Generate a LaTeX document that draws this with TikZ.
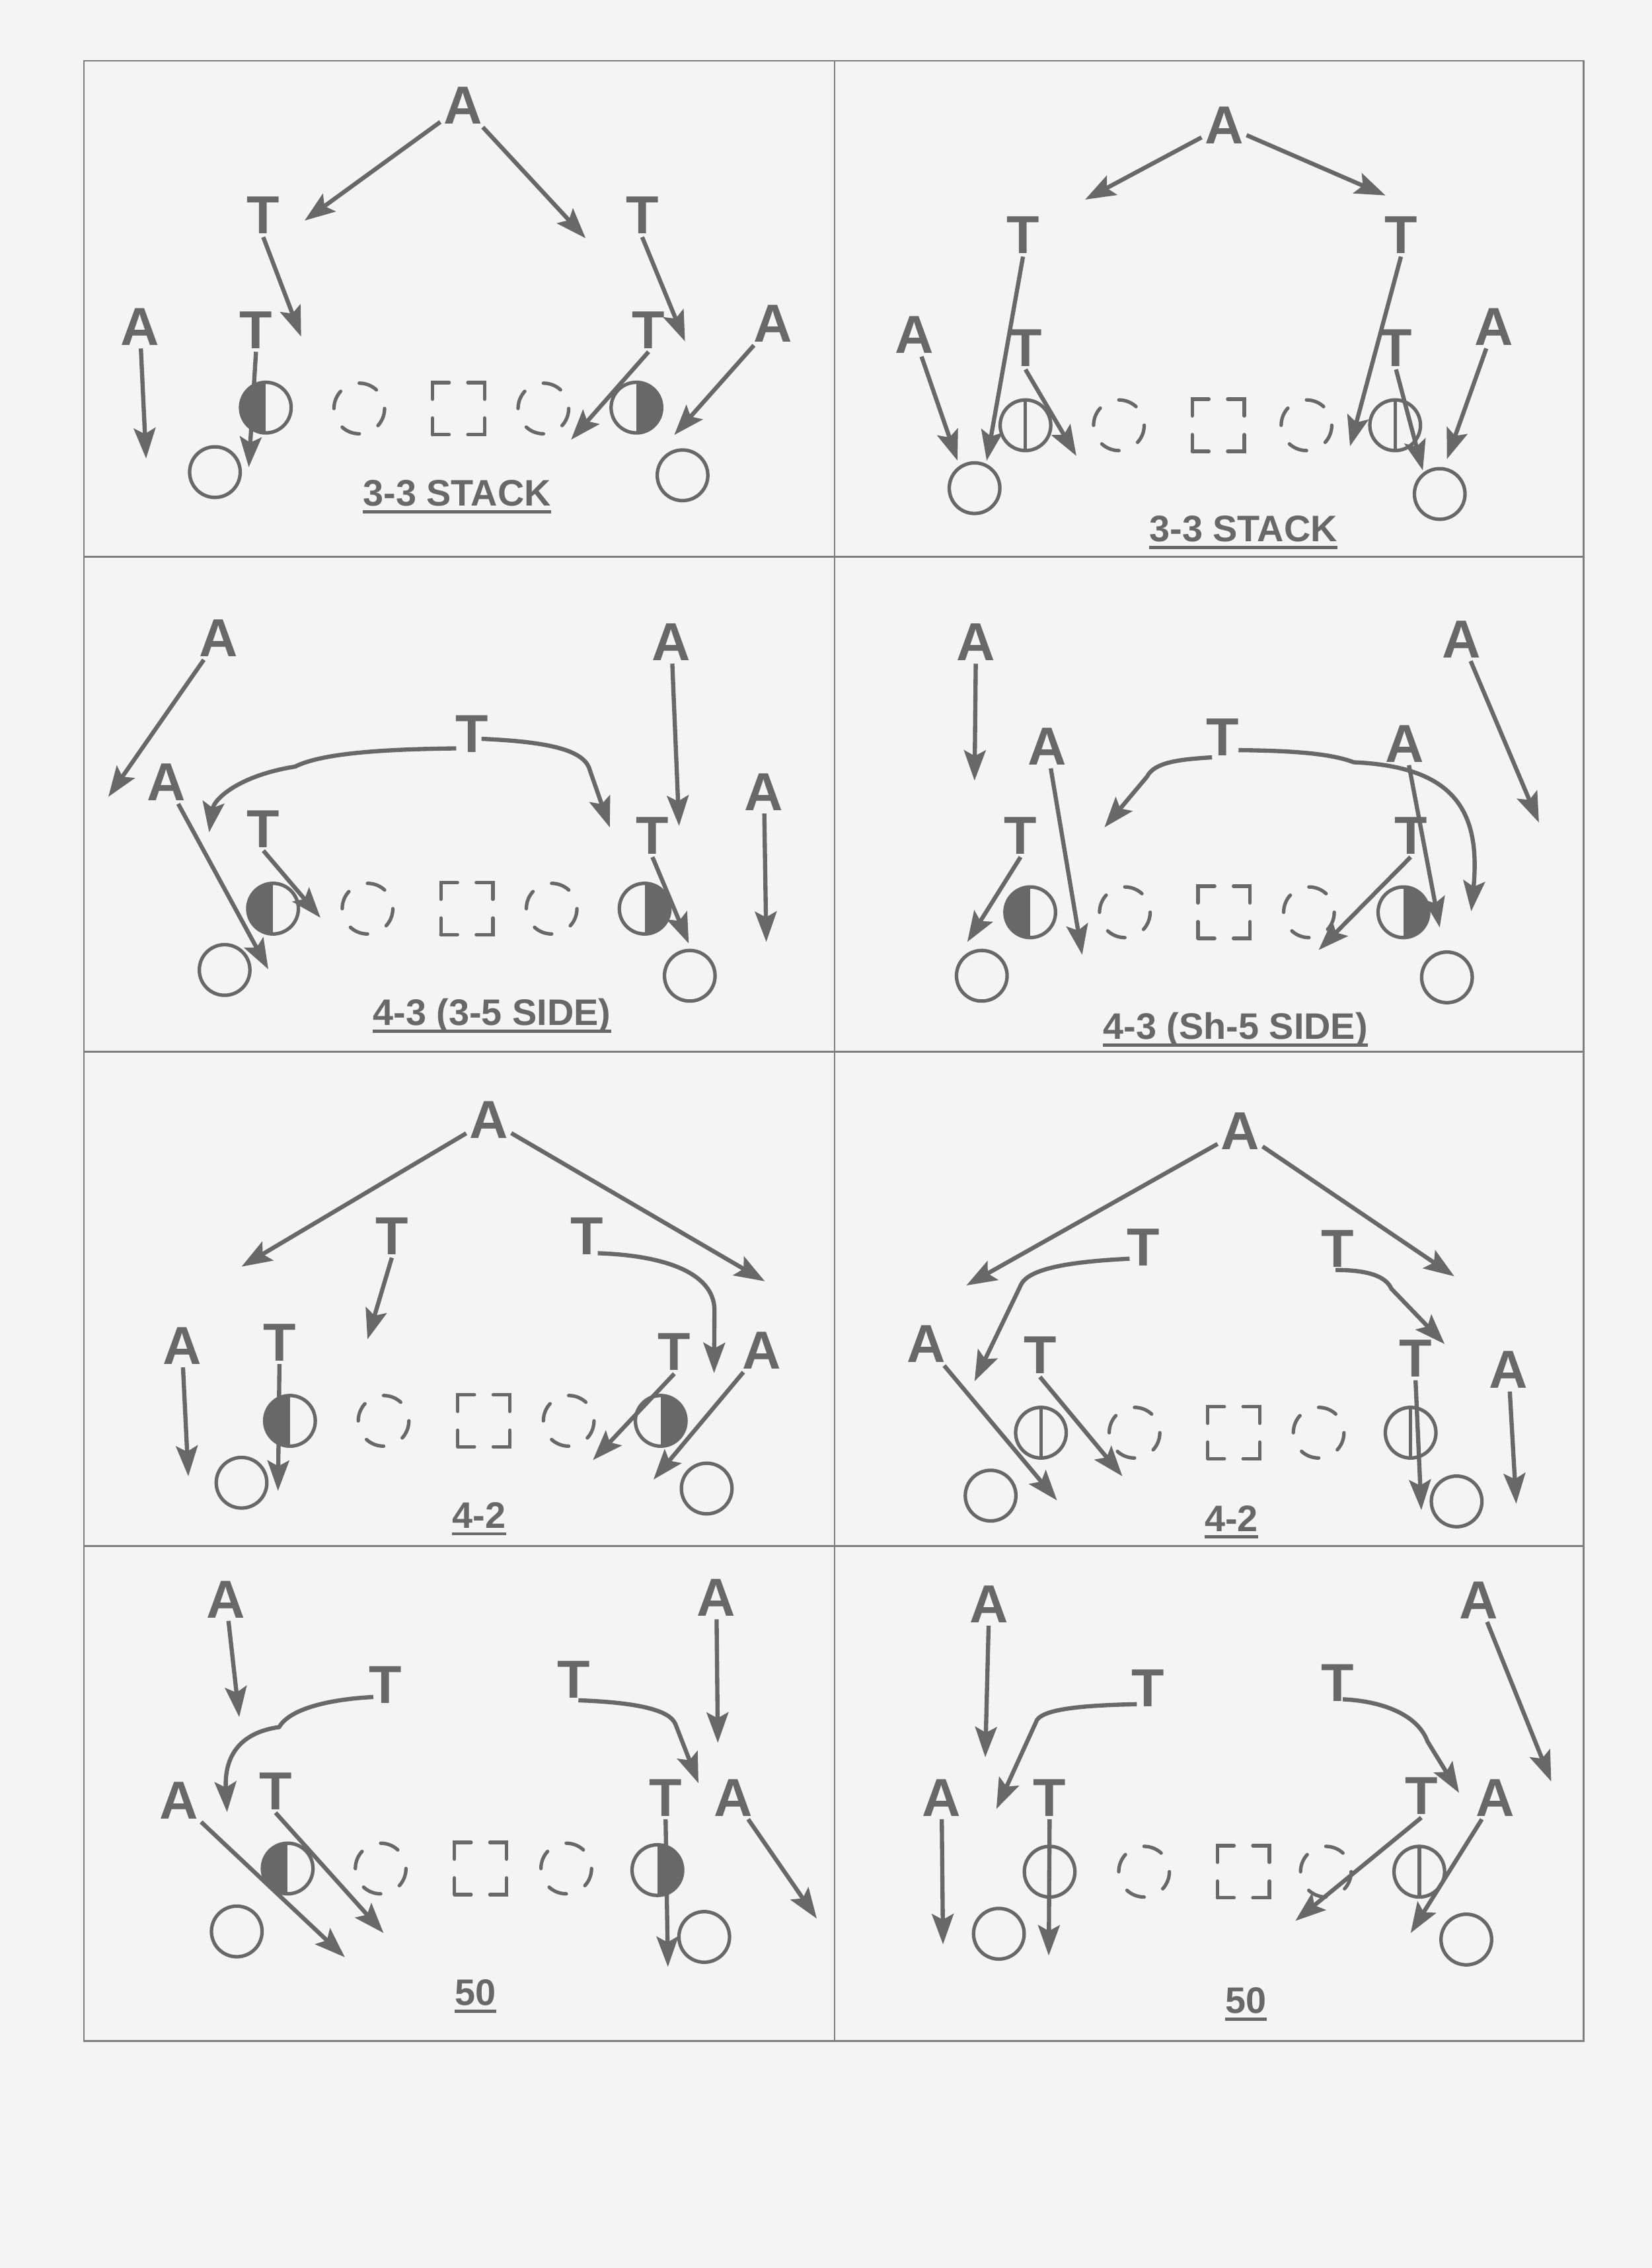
\documentclass[tikz,border=0pt]{standalone}
\usepackage{fontspec}
\setmainfont{Liberation Sans}
\usetikzlibrary{arrows.meta}
\definecolor{ink}{RGB}{104,104,104}
\definecolor{bgc}{RGB}{244,244,244}
\definecolor{gridc}{RGB}{125,125,125}
\newcommand\mv[3]{\coordinate (#2) at (#3); \draw[arr] (#1) -- (#2);}
\newcommand\ulbl[1]{\draw[uline] ([yshift=-4pt]#1.base west) -- ([yshift=-4pt]#1.base east);}
\begin{document}
\begin{tikzpicture}[x=1pt,y=-1pt,
  lt/.style={font=\fontsize{37}{42}\selectfont\bfseries, text=ink, inner sep=2pt},
  lbl/.style={font=\fontsize{25.5}{30}\selectfont\bfseries, text=ink, inner sep=0pt, anchor=base},
  uline/.style={draw=ink, line width=2.2pt},
  arr/.style={draw=ink, line width=2.9pt, -{Stealth[length=21pt,width=15pt,inset=4pt]}},
  plr/.style={circle, draw=ink, line width=2.4pt, minimum size=35pt, inner sep=0pt},
  halfL/.style={plr, path picture={\fill[ink] (path picture bounding box.south west) rectangle (path picture bounding box.north);}},
  halfR/.style={plr, path picture={\fill[ink] (path picture bounding box.north east) rectangle (path picture bounding box.south);}},
  vln/.style={plr, path picture={\draw[ink, line width=2.4pt] (path picture bounding box.north) -- (path picture bounding box.south);}},
  dcirc/.style={plr, line cap=round, dash pattern=on 13pt off 14.49pt, dash phase=13pt},
  dsq/.style={rectangle, draw=ink, line width=2.4pt, line cap=round, minimum size=36pt, inner sep=0pt, dash pattern=on 23pt off 13pt, dash phase=11.5pt},
  gridl/.style={draw=gridc, line width=1.3pt}
]
\useasboundingbox (0,0) rectangle (1142,1568);
\fill[bgc] (0,0) rectangle (1142,1568);
% grid
\draw[gridl] (58,42) rectangle (1095,1411);
\draw[gridl] (577,42) -- (577,1411);
\draw[gridl] (58,385) -- (1095,385);
\draw[gridl] (58,727) -- (1095,727);
\draw[gridl] (58,1069) -- (1095,1069);

% ===== Panel 1 =====
\node[lt] (p1A) at (320,73) {A};
\node[lt] (p1T1) at (182,149) {T};
\node[lt] (p1T2) at (444,149) {T};
\node[lt] (p1A2) at (96.7,226) {A};
\node[lt] (p1T3) at (177,228.3) {T};
\node[lt] (p1T4) at (448.4,228.3) {T};
\node[lt] (p1A3) at (534.5,223.8) {A};
\node[halfL] (p1d1) at (183.8,281.8) {};
\node[dcirc] (p1d2) at (248.4,282.4) {};
\node[dsq] (p1d3) at (317,282.5) {};
\node[dcirc] (p1d4) at (375.7,282.4) {};
\node[halfR] (p1d5) at (440,281.8) {};
\node[plr] (p1o1) at (148.6,326.4) {};
\node[plr] (p1o2) at (471.9,328.6) {};
\mv{p1A}{p1e1}{210.6,152.5}
\mv{p1A}{p1e2}{404.9,164.7}
\mv{p1T1.south}{p1e3}{208.2,232.7}
\mv{p1T2.south}{p1e4}{473.6,236}
\mv{p1A2}{p1e5}{101,317}
\mv{p1T3.south}{p1e6}{172,323}
\mv{p1T4.south}{p1e7}{394.8,304}
\mv{p1A3}{p1e8}{466.2,300.7}
\node[lbl] (p1L) at (316,349.8) {3-3 STACK};
\ulbl{p1L}

% ===== Panel 2 =====
\node[lt] (p2A) at (846.3,86.7) {A};
\node[lt] (p2T1) at (707.3,162.5) {T};
\node[lt] (p2T2) at (968.6,162.5) {T};
\node[lt] (p2A2) at (632,231.6) {A};
\node[lt] (p2T3) at (709,240.5) {T};
\node[lt] (p2T4) at (965.2,240.5) {T};
\node[lt] (p2A3) at (1032.9,226) {A};
\node[vln] (p2d1) at (709,294) {};
\node[dcirc] (p2d2) at (773.6,294) {};
\node[dsq] (p2d3) at (842.3,294) {};
\node[dcirc] (p2d4) at (903.3,294) {};
\node[vln] (p2d5) at (964.6,294) {};
\node[plr] (p2o1) at (673.8,337.5) {};
\node[plr] (p2o2) at (995.4,341.5) {};
\mv{p2A}{p2e1}{750.2,138}
\mv{p2A}{p2e2}{957.9,135.1}
\mv{p2T1.south}{p2e3}{682.2,318.5}
\mv{p2T2.south}{p2e4}{933.4,308.5}
\mv{p2A2}{p2e5}{662,318.5}
\mv{p2T3.south}{p2e6}{744.2,315.2}
\mv{p2T4.south}{p2e7}{983.7,325.2}
\mv{p2A3}{p2e8}{1000.4,317.4}
\node[lbl] (p2L) at (859.7,374.4) {3-3 STACK};
\ulbl{p2L}

% ===== Panel 3 =====
\node[lt] (p3A1) at (151.3,441.2) {A};
\node[lt] (p3A2) at (464.2,443.9) {A};
\node[lt] (p3T) at (326.2,507.4) {T};
\node[lt] (p3A3) at (115.1,540.8) {A};
\node[lt] (p3T2) at (182.1,573.2) {T};
\node[lt] (p3T3) at (451.1,577.6) {T};
\node[lt] (p3A4) at (528.2,547.5) {A};
\node[halfL] (p3d1) at (188.8,628.2) {};
\node[dcirc] (p3d2) at (254.1,628.2) {};
\node[dsq] (p3d3) at (322.8,628.2) {};
\node[dcirc] (p3d4) at (381.4,628.2) {};
\node[halfR] (p3d5) at (445.7,628.2) {};
\node[plr] (p3o1) at (155.3,670.6) {};
\node[plr] (p3o2) at (476.9,674.6) {};
\mv{p3A1}{p3e1}{74.9,550.9}
\mv{p3A2}{p3e2}{469.5,571}
\mv{p3A3}{p3e3}{185.5,670.1}
\mv{p3T2.south}{p3e4}{221.6,634.5}
\mv{p3T3.south}{p3e5}{476.2,652.3}
\mv{p3A4}{p3e6}{529.8,651.2}
\coordinate (p3s1) at ([shift={(-10.8,10)}]p3T.center);
\coordinate (p3e7) at (144.6,575.4);
\draw[arr] (p3s1) .. controls (262,518) and (222,521) .. (204,530) .. controls (166,536) and (148,552) .. (p3e7);
\coordinate (p3s2) at ([shift={(6.7,3.4)}]p3T.center);
\coordinate (p3e8) at (421.6,572);
\draw[arr] (p3s2) .. controls (385,513) and (405,520) .. (408,533) -- (p3e8);
\node[lbl] (p3L) at (340.1,709) {4-3 (3-5 SIDE)};
\ulbl{p3L}

% ===== Panel 4 =====
\node[lt] (p4A1) at (674.8,443.9) {A};
\node[lt] (p4A2) at (1010.5,442.1) {A};
\node[lt] (p4T) at (845.3,509.6) {T};
\node[lt] (p4A3) at (724,516.3) {A};
\node[lt] (p4A4) at (971.3,514.1) {A};
\node[lt] (p4T2) at (705.6,577.6) {T};
\node[lt] (p4T3) at (975.3,577.6) {T};
\node[halfL] (p4d1) at (712.3,630.7) {};
\node[dcirc] (p4d2) at (777.7,630.7) {};
\node[dsq] (p4d3) at (846.3,630.7) {};
\node[dcirc] (p4d4) at (905,630.7) {};
\node[halfR] (p4d5) at (970.3,630.7) {};
\node[plr] (p4o1) at (678.8,674.6) {};
\node[plr] (p4o2) at (1000.4,675.7) {};
\mv{p4A1}{p4e1}{673.8,539.7}
\mv{p4A2}{p4e2}{1064,568.7}
\mv{p4A3}{p4e3}{748.2,660.1}
\mv{p4A4}{p4e4}{995.4,641.2}
\mv{p4T2.south}{p4e5}{668.8,651.2}
\mv{p4T3.south}{p4e6}{911.7,656.8}
\coordinate (p4s1) at ([shift={(-7.3,14)}]p4T.center);
\coordinate (p4e7) at (763.6,572);
\draw[arr] (p4s1) .. controls (815,525) and (798,527) .. (793,537) -- (p4e7);
\coordinate (p4s2) at ([shift={(11,9)}]p4T.center);
\coordinate (p4e8) at (1017.2,630);
\draw[arr] (p4s2) .. controls (895,519) and (920,521) .. (936,527) .. controls (1005,530) and (1024,560) .. (p4e8);
\node[lbl] (p4L) at (854.2,718.5) {4-3 (Sh-5 SIDE)};
\ulbl{p4L}

% ===== Panel 5 =====
\node[lt] (p5A) at (337.9,774.3) {A};
\node[lt] (p5T1) at (270.9,854.6) {T};
\node[lt] (p5T2) at (405.9,854.6) {T};
\node[lt] (p5A2) at (125.8,930.4) {A};
\node[lt] (p5T3) at (193.2,928.1) {T};
\node[lt] (p5T4) at (466.2,934.8) {T};
\node[lt] (p5A3) at (526.5,933.7) {A};
\node[halfL] (p5d1) at (200.5,982.3) {};
\node[dcirc] (p5d2) at (265.2,982.3) {};
\node[dsq] (p5d3) at (334.5,982.3) {};
\node[dcirc] (p5d4) at (393.2,982.3) {};
\node[halfR] (p5d5) at (456.8,982.3) {};
\node[plr] (p5o1) at (167,1025.1) {};
\node[plr] (p5o2) at (488.6,1029.1) {};
\mv{p5A}{p5e1}{167,875.7}
\mv{p5A}{p5e2}{528.8,885.8}
\mv{p5T1.south}{p5e3}{254.1,925.9}
\mv{p5A2}{p5e4}{130.2,1020.6}
\mv{p5T3.south}{p5e5}{192.2,1030.7}
\mv{p5T4.south}{p5e6}{409.9,1009.5}
\mv{p5A3}{p5e7}{451.8,1022.9}
\coordinate (p5s1) at ([shift={(7.4,11.8)}]p5T2.center);
\coordinate (p5e8) at (493.7,949.3);
\draw[arr] (p5s1) .. controls (460,868) and (493,880) .. (494,905) -- (p5e8);
\node[lbl] (p5L) at (331.2,1056.4) {4-2};
\ulbl{p5L}

% ===== Panel 6 =====
\node[lt] (p6A) at (857.4,782.1) {A};
\node[lt] (p6T1) at (790.4,862.4) {T};
\node[lt] (p6T2) at (925,863.5) {T};
\node[lt] (p6A2) at (640.3,929.2) {A};
\node[lt] (p6T3) at (719,937) {T};
\node[lt] (p6T4) at (978.7,939.3) {T};
\node[lt] (p6A3) at (1043,947.1) {A};
\node[vln] (p6d1) at (719.7,990.5) {};
\node[dcirc] (p6d2) at (784.4,990.5) {};
\node[dsq] (p6d3) at (853,990.5) {};
\node[dcirc] (p6d4) at (911.7,990.5) {};
\node[vln] (p6d5) at (975.3,990.5) {};
\node[plr] (p6o1) at (684.9,1034) {};
\node[plr] (p6o2) at (1007.1,1038) {};
\mv{p6A}{p6e1}{668.1,888.7}
\mv{p6A}{p6e2}{1005.5,882.4}
\mv{p6A2}{p6e3}{730.8,1037.3}
\mv{p6T3.south}{p6e4}{776,1020.6}
\mv{p6T4.south}{p6e5}{982.7,1044}
\mv{p6A3}{p6e6}{1048.3,1039.6}
\coordinate (p6s1) at ([shift={(-9.4,7.8)}]p6T1.center);
\coordinate (p6e7) at (673.8,954.9);
\draw[arr] (p6s1) .. controls (745,872) and (712,876) .. (706,888) -- (p6e7);
\coordinate (p6s2) at ([shift={(-1.6,14.5)}]p6T2.center);
\coordinate (p6e8) at (998.8,929.2);
\draw[arr] (p6s2) .. controls (945,878) and (958,882) .. (962,891) -- (p6e8);
\node[lbl] (p6L) at (851.4,1058.6) {4-2};
\ulbl{p6L}

% ===== Panel 7 =====
\node[lt] (p7A1) at (156.3,1105.7) {A};
\node[lt] (p7A2) at (495.3,1104.6) {A};
\node[lt] (p7T1) at (266.5,1164.8) {T};
\node[lt] (p7T2) at (396.5,1161.4) {T};
\node[lt] (p7A3) at (123.5,1245) {A};
\node[lt] (p7T3) at (190.5,1238.3) {T};
\node[lt] (p7T4) at (460.2,1242.8) {T};
\node[lt] (p7A4) at (507,1242.8) {A};
\node[halfL] (p7d1) at (198.9,1291.8) {};
\node[dcirc] (p7d2) at (263.2,1291.8) {};
\node[dsq] (p7d3) at (332.2,1291.8) {};
\node[dcirc] (p7d4) at (391.5,1291.8) {};
\node[halfR] (p7d5) at (454.5,1292.9) {};
\node[plr] (p7o1) at (163.7,1335.3) {};
\node[plr] (p7o2) at (486.9,1339.1) {};
\mv{p7A1}{p7e1}{165.4,1187.1}
\mv{p7A2}{p7e2}{496.3,1204.9}
\mv{p7A3}{p7e3}{238.4,1353.1}
\mv{p7T3.south}{p7e4}{265.2,1336.4}
\mv{p7T4.south}{p7e5}{461.8,1359.8}
\mv{p7A4}{p7e6}{564.7,1326.4}
\coordinate (p7s1) at ([shift={(-8.4,8.4)}]p7T1.center);
\coordinate (p7e7) at (157,1252.8);
\draw[arr] (p7s1) .. controls (225,1175) and (200,1182) .. (193,1194) .. controls (165,1198) and (155,1215) .. (p7e7);
\coordinate (p7s2) at ([shift={(3.4,14.1)}]p7T2.center);
\coordinate (p7e8) at (482.9,1232.8);
\draw[arr] (p7s2) .. controls (440,1177) and (463,1182) .. (467,1192) -- (p7e8);
\node[lbl] (p7L) at (328.8,1386.6) {50};
\ulbl{p7L}

% ===== Panel 8 =====
\node[lt] (p8A1) at (683.9,1109) {A};
\node[lt] (p8A2) at (1022.2,1106.4) {A};
\node[lt] (p8T1) at (793.7,1167) {T};
\node[lt] (p8T2) at (925,1163.7) {T};
\node[lt] (p8A3) at (651,1242.8) {A};
\node[lt] (p8T3) at (725.7,1242.8) {T};
\node[lt] (p8T4) at (982.7,1241.7) {T};
\node[lt] (p8A4) at (1033.9,1242.8) {A};
\node[vln] (p8d1) at (725.7,1294) {};
\node[dcirc] (p8d2) at (791,1294) {};
\node[dsq] (p8d3) at (859.7,1294) {};
\node[dcirc] (p8d4) at (916.7,1294) {};
\node[vln] (p8d5) at (981.3,1294) {};
\node[plr] (p8o1) at (690.6,1336.9) {};
\node[plr] (p8o2) at (1013.8,1340.9) {};
\mv{p8A1}{p8e1}{681.2,1214.9}
\mv{p8A2}{p8e2}{1072.5,1231.6}
\mv{p8A3}{p8e3}{652,1344.2}
\mv{p8T3.south}{p8e4}{725.1,1352}
\mv{p8T4.south}{p8e5}{895.6,1328}
\mv{p8A4}{p8e6}{975.3,1336.4}
\coordinate (p8s1) at ([shift={(-7.7,11.2)}]p8T1.center);
\coordinate (p8e7) at (688.9,1250.6);
\draw[arr] (p8s1) .. controls (745,1179) and (722,1182) .. (717,1189) -- (p8e7);
\coordinate (p8s2) at ([shift={(3.4,11.1)}]p8T2.center);
\coordinate (p8e8) at (1008.8,1239.5);
\draw[arr] (p8s2) .. controls (955,1176) and (980,1185) .. (987,1204) -- (p8e8);
\node[lbl] (p8L) at (861.4,1392) {50};
\ulbl{p8L}
\end{tikzpicture}
\end{document}
